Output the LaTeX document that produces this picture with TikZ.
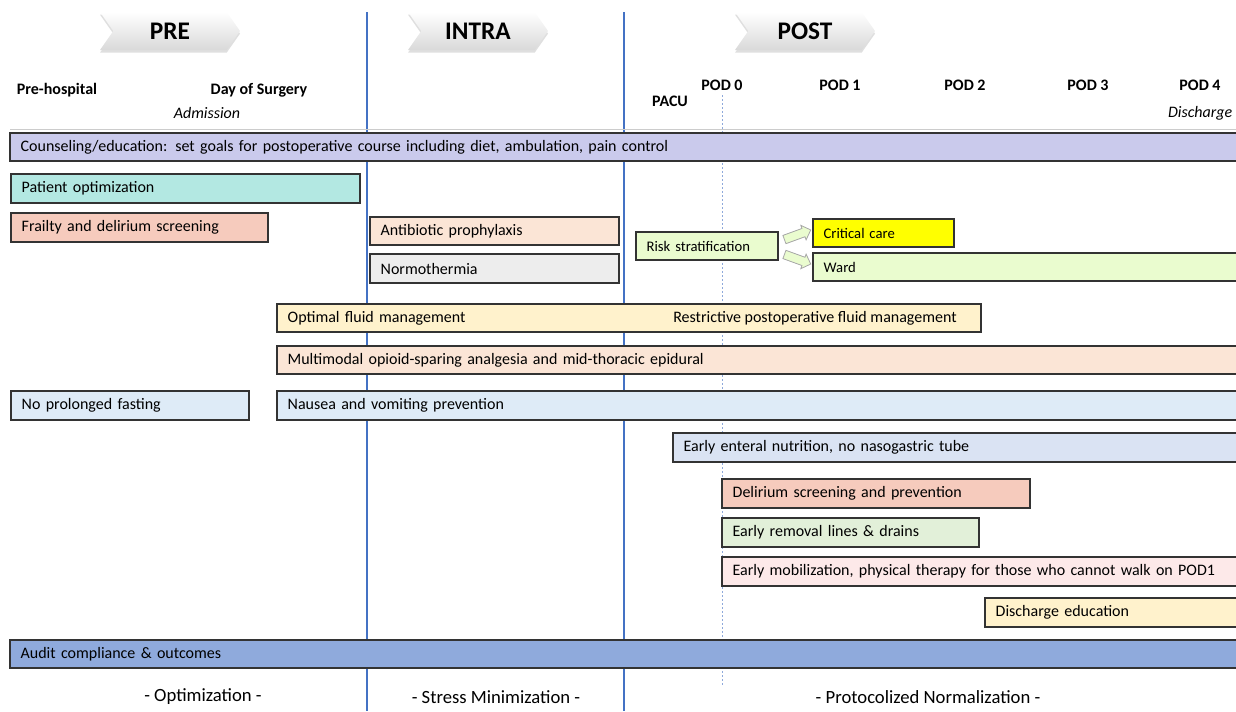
\documentclass[tikz,border=0pt]{standalone}
\usepackage{fontspec}
\setmainfont{Carlito}
\usetikzlibrary{shapes.symbols,shapes.arrows,shadows,calc,positioning}

\definecolor{phaseblue}{HTML}{4472C4}
\definecolor{podblue}{HTML}{8EA9DB}
\definecolor{counsel}{HTML}{CACAEC}
\definecolor{teal}{HTML}{B3E8E2}
\definecolor{salmon}{HTML}{F6CBBD}
\definecolor{peach}{HTML}{FBE5D6}
\definecolor{lightgrey}{HTML}{EDEDED}
\definecolor{riskgreen}{HTML}{EAFCCF}
\definecolor{crityellow}{HTML}{FFFF00}
\definecolor{fluidyellow}{HTML}{FFF2CC}
\definecolor{paleblue}{HTML}{DEEBF7}
\definecolor{enteralblue}{HTML}{DAE3F3}
\definecolor{palegreen}{HTML}{E2F0D9}
\definecolor{palepink}{HTML}{FDE9E9}
\definecolor{auditblue}{HTML}{8FAADC}

% bar from (x1,y1) to (x2,y2) in pixels, text on the left
\newcommand{\phasebar}[7]{%
  \pgfmathsetmacro{\barht}{0.75*(#5-#3)}%
  \pgfmathsetmacro{\bartx}{0.75*(#4-#2)-16}%
  \node[bar, #6, minimum height=\barht pt, text width=\bartx pt, anchor=north west] (#1) at (#2,#3) {#7};%
}

\begin{document}
\begin{tikzpicture}[
    x=0.75pt, y=-0.75pt,
    bar/.style={draw=black!80, line width=1pt, inner xsep=8pt, inner ysep=0pt, outer sep=0pt, align=left, font=\fontsize{12}{14}\selectfont},
    smallbar/.style={font=\fontsize{11}{13}\selectfont},
    bartext/.style={font=\fontsize{12}{14}\selectfont, inner sep=0pt},
    phase/.style={signal, signal from=west, signal to=east, signal pointer angle=110, minimum width=105pt, minimum height=28.5pt, inner sep=0pt,
        top color=white, bottom color=gray!30, drop shadow={shadow xshift=0pt, shadow yshift=-2pt, opacity=0.25}, font=\fontsize{19}{22}\selectfont\bfseries},
    daylabel/.style={font=\fontsize{12}{14}\selectfont\bfseries},
    subday/.style={font=\fontsize{12}{14}\selectfont\itshape},
    divider/.style={draw=phaseblue, line width=0.9pt},
    podline/.style={draw=podblue, line width=0.6pt, dash pattern=on 1.5pt off 1.5pt},
    goal/.style={font=\fontsize{14}{17}\selectfont},
    flowarrow/.style={single arrow, draw=gray!70, fill=riskgreen, line width=0.6pt, minimum height=21pt, minimum width=11pt, single arrow head extend=2.5pt, inner sep=0pt}
]
\useasboundingbox (0,0) rectangle (1236,711);
\clip (0,0) rectangle (1236,711);

% === Phase dividers ===
\draw[divider] (367,12) -- (367,711);
\draw[divider] (624,12) -- (624,711);
\draw[podline] (722,95) -- (722,685);
\draw[gray!40, line width=0.75pt] (10,129) -- (1236,129);

% === Phase headers ===
\node[phase] (pre) at (170,31) {PRE};
\node[phase] (intra) at (478,31) {INTRA};
\node[phase] (post) at (805,31) {POST};

% === Time line ===
\node[daylabel] (prehosp) at (57,90) {Pre-hospital};
\node[daylabel] (dos) at (259,90) {Day of Surgery};
\node[subday] (admit) at (207,113) {Admission};
\node[daylabel] (pacu) at (670,101) {PACU};
\node[daylabel] (pod0) at (722,85) {POD 0};
\foreach \d/\x in {1/840, 2/965, 3/1088, 4/1200}
    \node[daylabel] (pod\d) at (\x,85) {POD \d};
\node[subday, anchor=east] (disch) at (1237,113) {Discharge};

% === Elements ===
\phasebar{counsel}{10}{133}{1250}{161}{fill=counsel}{Counseling/education: set goals for postoperative course including diet, ambulation, pain control}
\phasebar{patopt}{11}{174}{360}{203}{fill=teal}{Patient optimization}
\phasebar{frailty}{11}{213}{268}{242}{fill=salmon}{Frailty and delirium screening}
\phasebar{antibio}{370}{217}{619}{245}{fill=peach}{Antibiotic prophylaxis}
\phasebar{normo}{370}{254}{619}{283}{fill=lightgrey}{Normothermia}
\phasebar{risk}{636}{232}{778}{260}{fill=riskgreen, smallbar}{Risk stratification}
\phasebar{crit}{813}{219}{954}{247}{fill=crityellow, smallbar}{Critical care}
\phasebar{ward}{813}{253}{1250}{281}{fill=riskgreen, smallbar}{Ward}
\phasebar{fluid}{277}{304}{981}{332}{fill=fluidyellow}{Optimal fluid management}
\node[bartext, anchor=west] (restrict) at (673,318) {Restrictive postoperative fluid management};
\phasebar{analg}{277}{346}{1250}{374}{fill=peach}{Multimodal opioid-sparing analgesia and mid-thoracic epidural}
\phasebar{fasting}{11}{391}{249}{420}{fill=paleblue}{No prolonged fasting}
\phasebar{nausea}{277}{391}{1250}{420}{fill=paleblue}{Nausea and vomiting prevention}
\phasebar{enteral}{673}{433}{1250}{462}{fill=enteralblue}{Early enteral nutrition, no nasogastric tube}
\phasebar{delir}{722}{479}{1030}{508}{fill=salmon}{Delirium screening and prevention}
\phasebar{lines}{722}{518}{979}{547}{fill=palegreen}{Early removal lines \& drains}
\phasebar{mobil}{722}{557}{1250}{586}{fill=palepink}{Early mobilization, physical therapy for those who cannot walk on POD1}
\phasebar{dischedu}{985}{598}{1250}{627}{fill=fluidyellow}{Discharge education}
\phasebar{audit}{10}{640}{1250}{668}{fill=auditblue}{Audit compliance \& outcomes}

% Risk -> destination
\node[flowarrow, rotate=20] (tocrit) at ($(risk.east)!0.5!(crit.west)+(0,-4)$) {\rule{0pt}{6pt}};
\node[flowarrow, rotate=-20] (toward) at ($(risk.east)!0.5!(ward.west)+(0,2)$) {\rule{0pt}{6pt}};

% === Goals ===
\node[goal] (optim) at (203,697) {- Optimization -};
\node[goal] (stress) at (496,697) {- Stress Minimization -};
\node[goal] (normal) at (928,697) {- Protocolized Normalization -};

\end{tikzpicture}
\end{document}
